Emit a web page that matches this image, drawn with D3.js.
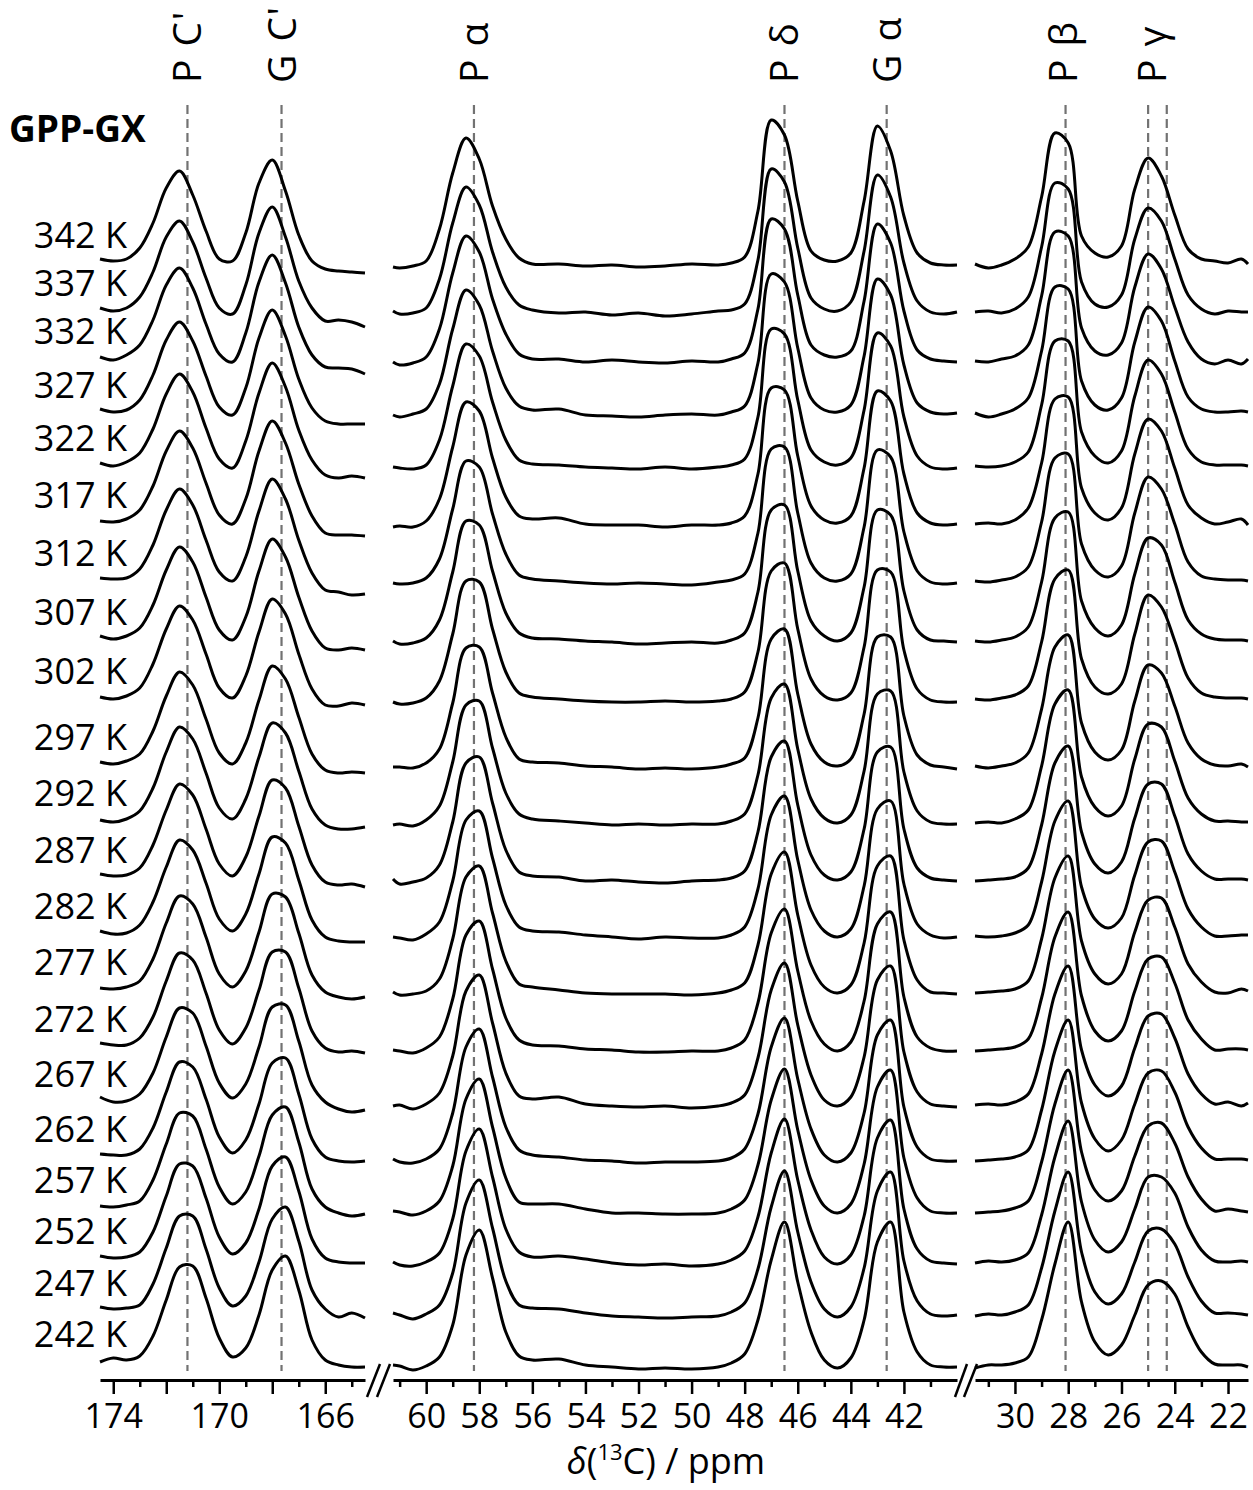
<!DOCTYPE html>
<html>
<head>
<meta charset="utf-8">
<script src="https://cdn.jsdelivr.net/npm/d3@7"></script>
<style>
  body { margin: 0; background: #fff; }
  text { font-family: "Open Sans", sans-serif; }
</style>
</head>
<body>
<div id="chart"></div>
<script>
// temperatures, top to bottom, and stacking offset of each trace (intensity units)
const temps = [342, 337, 332, 327, 322, 317, 312, 307, 302, 297, 292, 287, 282, 277, 272, 267, 262, 257, 252, 247, 242];
const offsets = [1099, 1051, 1003, 949, 896, 839, 781, 722, 663, 597, 541, 484, 428, 372, 315, 260, 205, 154, 103, 51, 0];

// chemical shift grids of the three panels (ppm)
const ppm1 = [174.5, 174, 173.5, 173, 172.5, 172, 171.5, 171, 170.5, 170, 169.5, 169, 168.5, 168, 167.5, 167, 166.5, 166, 165.5, 165, 164.5];
const ppm2 = [61.25, 61, 60.5, 60, 59.5, 59, 58.5, 58, 57.5, 57, 56.5, 56, 55, 54, 53, 52, 51, 50, 49, 48.5, 48, 47.5, 47, 46.5, 46, 45.5, 45, 44.5, 44, 43.5, 43, 42.5, 42, 41.5, 41, 40.5, 40];
const ppm3 = [31.5, 31, 30.5, 30, 29.5, 29, 28.5, 28, 27.5, 27, 26.5, 26, 25.5, 25, 24.5, 24, 23.5, 23, 22.5, 22, 21.5, 21.25];

// intensities, one row per temperature
const spec1 = [
  [2, 0, 2, 13, 38, 73, 90, 66, 30, 2, 0, 28, 78, 101, 70, 26, 0, -8, -10, -11, -12],   // 342
  [1, -2, 1, 12, 37, 72, 88, 67, 31, 1, -5, 24, 76, 102, 72, 28, 1, -12, -11, -13, -18], // 337
  [0, -3, 2, 12, 37, 72, 89, 69, 33, 3, -5, 24, 75, 102, 74, 30, 2, -10, -11, -12, -17], // 332
  [2, -1, 1, 11, 36, 71, 89, 70, 35, 4, -4, 23, 73, 101, 75, 32, 3, -10, -13, -13, -13], // 327
  [1, -2, 2, 11, 35, 70, 90, 72, 36, 5, -4, 23, 71, 101, 77, 34, 4, -11, -14, -12, -14], // 322
  [0, -1, 2, 11, 35, 70, 90, 73, 38, 6, -3, 22, 70, 100, 78, 37, 5, -12, -14, -14, -15], // 317
  [1, 0, 1, 10, 34, 69, 90, 74, 39, 7, -2, 22, 68, 100, 80, 39, 6, -11, -13, -16, -15],  // 312
  [2, -1, 2, 10, 33, 68, 91, 76, 41, 8, -2, 21, 67, 99, 81, 41, 7, -10, -12, -10, -12],  // 307
  [0, -2, 1, 9, 33, 68, 91, 77, 43, 9, -1, 21, 65, 98, 83, 43, 8, -8, -9, -6, -8],       // 302
  [1, -1, 2, 9, 32, 67, 91, 78, 44, 10, -1, 20, 63, 97, 84, 46, 9, -7, -10, -9, -10],    // 297
  [-1, -3, 0, 8, 31, 67, 92, 80, 46, 11, 0, 20, 62, 96, 86, 48, 10, -6, -10, -10, -8],   // 292
  [2, 0, 1, 8, 31, 66, 92, 81, 47, 12, 0, 19, 60, 96, 88, 50, 11, -6, -9, -8, -11],      // 287
  [1, -2, -1, 7, 30, 65, 92, 82, 49, 13, 1, 18, 58, 95, 89, 52, 12, -5, -9, -10, -10],   // 282
  [0, -1, 1, 7, 29, 65, 92, 84, 51, 14, 1, 17, 56, 94, 91, 55, 13, -4, -9, -11, -9],     // 277
  [2, 0, 0, 7, 28, 64, 92, 85, 52, 15, 1, 17, 55, 93, 93, 57, 14, -3, -7, -6, -8],       // 272
  [3, -2, -1, 6, 27, 63, 92, 87, 54, 17, 2, 16, 53, 93, 95, 59, 15, -2, -9, -12, -10],   // 267
  [1, 0, 0, 6, 27, 63, 93, 88, 56, 18, 2, 15, 51, 92, 97, 61, 16, -2, -6, -7, -6],       // 262
  [0, -1, 1, 5, 26, 62, 93, 90, 57, 19, 2, 14, 50, 91, 99, 64, 17, -1, -7, -10, -8],     // 257
  [1, -1, 0, 5, 25, 61, 93, 91, 59, 20, 3, 14, 48, 91, 100, 66, 18, -1, -5, -6, -6],     // 252
  [2, 0, 1, 4, 25, 61, 93, 93, 60, 21, 3, 13, 47, 90, 102, 68, 19, 0, -8, -4, -9],       // 247
  [-2, 2, 0, 4, 24, 60, 93, 94, 62, 22, 3, 12, 45, 90, 104, 70, 20, 0, -5, -7, -7]       // 242
];

const spec2 = [
  [-6, -7, -5, 0, 32, 88, 123, 102, 55, 22, 3, -3, -3, -5, -4, -6, -5, -3, -4, -2, 4, 50, 141, 126, 60, 10, 1, 0, 8, 60, 135, 110, 45, 8, -2, -4, -4],
  [-2, -5, -4, 1, 30, 86, 122, 104, 57, 22, 4, -1, -4, -3, -6, -4, -7, -5, -2, -1, 5, 49, 140, 127, 61, 11, 0, -2, 7, 58, 134, 112, 46, 8, -3, -5, -3],
  [-5, -8, -6, 0, 28, 84, 121, 105, 58, 23, 3, -2, -2, -5, -3, -5, -6, -4, -5, -2, 4, 48, 138, 128, 62, 12, 2, 0, 6, 56, 133, 114, 46, 7, -2, -4, -5],
  [-4, -6, -3, 2, 27, 82, 121, 106, 60, 23, 5, 1, 2, -4, -5, -6, -4, -3, -4, -1, 5, 48, 137, 129, 63, 13, 1, -1, 6, 55, 132, 116, 46, 8, -1, -3, -2],
  [-3, -4, -5, -1, 24, 78, 120, 108, 62, 24, 4, 0, -1, -3, -4, -5, -3, -5, -3, -1, 5, 47, 135, 130, 64, 14, 2, -1, 6, 54, 131, 118, 47, 8, -3, -5, -4],
  [-6, -5, -6, 0, 22, 74, 119, 110, 63, 24, 5, 2, 3, -3, -4, -4, -6, -4, -4, -2, 5, 47, 133, 131, 65, 15, 1, -2, 5, 53, 130, 120, 47, 8, -2, -4, -3],
  [-4, -5, -4, 1, 20, 70, 118, 112, 65, 25, 4, 0, -2, -4, -5, -4, -5, -6, -3, -1, 5, 46, 130, 132, 66, 16, 1, -2, 5, 52, 129, 122, 47, 8, -3, -5, -4],
  [-3, -6, -5, 0, 18, 66, 117, 113, 67, 25, 5, 0, -1, -3, -4, -6, -5, -4, -5, -2, 5, 46, 128, 133, 67, 17, 2, -3, 5, 51, 128, 123, 47, 8, -2, -3, -4],
  [-5, -7, -6, -1, 16, 63, 116, 115, 68, 25, 4, 0, -2, -4, -5, -5, -4, -5, -4, -2, 5, 45, 126, 134, 68, 18, 1, -3, 4, 50, 127, 125, 47, 8, -3, -5, -5],
  [-4, -4, -5, 0, 14, 60, 115, 116, 70, 26, 4, 1, 0, -3, -4, -6, -5, -6, -4, -1, 5, 45, 124, 134, 69, 19, 1, -3, 4, 49, 126, 126, 47, 8, -2, -4, -6],
  [-6, -5, -7, -1, 13, 57, 114, 118, 71, 26, 5, 0, -2, -4, -6, -5, -6, -5, -5, -2, 5, 44, 121, 135, 70, 20, 1, -4, 4, 48, 125, 128, 47, 8, -3, -5, -5],
  [-3, -8, -6, -2, 11, 54, 113, 119, 73, 26, 4, 0, -1, -5, -4, -6, -7, -5, -4, -2, 5, 44, 119, 135, 71, 21, 1, -4, 4, 47, 124, 129, 47, 8, -2, -4, -5],
  [-5, -6, -8, -2, 10, 51, 112, 121, 74, 27, 5, 1, 0, -3, -5, -7, -5, -6, -6, -3, 5, 43, 117, 136, 72, 22, 1, -5, 3, 46, 123, 131, 48, 8, -3, -6, -5],
  [-4, -7, -6, -3, 9, 49, 111, 122, 75, 27, 4, 1, -2, -5, -6, -6, -6, -7, -5, -2, 5, 43, 114, 136, 73, 23, 1, -5, 3, 45, 122, 132, 48, 8, -4, -5, -6],
  [-5, -6, -8, -3, 8, 46, 110, 124, 76, 27, 5, 0, -1, -4, -5, -7, -7, -6, -6, -3, 5, 42, 112, 136, 74, 24, 1, -6, 3, 44, 121, 133, 48, 8, -3, -6, -6],
  [-6, -5, -9, -4, 7, 44, 109, 125, 77, 27, 4, 1, 3, -4, -6, -7, -6, -8, -6, -3, 5, 42, 110, 137, 75, 25, 0, -6, 3, 43, 120, 134, 48, 8, -4, -6, -7],
  [-4, -7, -8, -4, 6, 42, 108, 126, 78, 28, 5, 0, -2, -5, -6, -8, -7, -7, -6, -3, 6, 41, 108, 137, 76, 26, 0, -7, 2, 42, 120, 135, 48, 8, -4, -6, -6],
  [-5, -6, -9, -5, 5, 40, 107, 127, 79, 28, 4, 2, 2, -3, -7, -7, -8, -8, -7, -3, 6, 41, 106, 137, 76, 26, 0, -7, 2, 42, 119, 136, 48, 8, -5, -7, -7],
  [-5, -8, -9, -5, 4, 38, 106, 128, 80, 28, 5, 0, 1, -2, -6, -8, -7, -9, -7, -3, 6, 40, 104, 138, 77, 27, 0, -7, 2, 41, 119, 137, 48, 8, -4, -6, -7],
  [-4, -6, -10, -5, 4, 36, 106, 129, 81, 28, 4, 1, 0, -4, -7, -8, -9, -8, -7, -3, 6, 40, 102, 138, 77, 27, 0, -8, 2, 41, 118, 137, 48, 8, -5, -7, -6],
  [-5, -6, -10, -6, 3, 35, 105, 130, 82, 28, 4, 0, 1, -5, -7, -9, -8, -9, -7, -3, 6, 40, 100, 138, 78, 28, 0, -8, 2, 40, 118, 138, 48, 8, -5, -7, -7]
];

const spec3 = [
  [-3, -7, -4, 2, 14, 64, 128, 118, 25, 8, 4, 15, 72, 103, 85, 46, 12, 2, 0, -2, 2, -3],
  [-3, -2, -4, 0, 12, 62, 126, 120, 27, 5, 2, 14, 70, 101, 88, 50, 14, 0, -5, -2, -3, -3],
  [-4, -5, -2, 1, 12, 61, 125, 121, 29, 6, 2, 14, 70, 103, 88, 50, 15, -2, -7, -3, -7, -2],
  [-2, -6, -3, 2, 13, 60, 124, 122, 30, 6, 1, 13, 69, 104, 90, 50, 14, 2, -1, -1, 0, -1],
  [-2, -3, -2, 2, 12, 59, 123, 123, 32, 8, 1, 13, 68, 104, 90, 52, 15, 2, -1, -1, -1, -2],
  [-3, -2, -3, 1, 13, 58, 122, 124, 33, 8, 1, 13, 67, 102, 90, 53, 16, 3, -3, -1, 2, -4],
  [-2, -3, -1, 2, 12, 57, 121, 125, 35, 9, 2, 13, 66, 102, 90, 55, 17, 3, 0, -1, -1, -2],
  [-3, -4, -2, 1, 11, 56, 120, 126, 37, 10, 2, 13, 64, 100, 93, 56, 18, 4, -1, -2, -2, -3],
  [-2, -3, -1, 2, 11, 55, 118, 127, 38, 10, 3, 13, 63, 102, 90, 56, 19, 4, 0, -1, -1, -2],
  [-3, -5, -3, 0, 10, 54, 116, 128, 40, 11, 3, 13, 62, 98, 90, 57, 20, 4, -2, -3, -1, -4],
  [-4, -3, -4, 0, 9, 53, 115, 129, 42, 12, 3, 13, 60, 95, 92, 58, 21, 5, -2, -2, -3, -3],
  [-5, -4, -3, -1, 8, 51, 113, 130, 44, 12, 3, 14, 58, 92, 92, 60, 22, 5, -3, -3, -3, -4],
  [-4, -5, -4, -1, 7, 50, 111, 131, 45, 13, 4, 14, 57, 90, 91, 60, 23, 5, -4, -4, -3, -3],
  [-5, -4, -3, -1, 7, 49, 110, 132, 47, 14, 4, 14, 56, 88, 90, 61, 24, 6, -4, -5, -1, -3],
  [-6, -5, -4, -2, 6, 47, 108, 133, 49, 14, 4, 14, 54, 86, 88, 62, 25, 6, -5, -4, -4, -5],
  [-5, -4, -5, -2, 6, 46, 106, 134, 50, 15, 4, 14, 52, 84, 86, 62, 26, 6, -4, -2, -6, -3],
  [-6, -5, -4, -2, 5, 45, 104, 135, 52, 16, 4, 15, 51, 82, 84, 63, 28, 7, -4, -4, -4, -5],
  [-7, -6, -5, -2, 5, 44, 102, 136, 54, 16, 5, 15, 50, 80, 83, 63, 29, 7, -5, -3, -5, -6],
  [-6, -4, -5, -3, 4, 42, 100, 136, 55, 17, 5, 15, 48, 80, 80, 64, 30, 7, -4, -5, -4, -5],
  [-7, -5, -6, -3, 4, 41, 98, 137, 57, 17, 5, 15, 47, 78, 80, 65, 32, 8, -4, -4, -5, -6],
  [-8, -5, -5, -3, 3, 40, 96, 138, 58, 18, 5, 15, 45, 75, 79, 66, 33, 8, -4, -5, -5, -7]
];

// peak assignments: label, label position and dashed reference lines (ppm)
const peakLabels = ["P C'", "G C'", "P α", "P δ", "G α", "P β", "P γ"];
const labelPpm = [171.2, 167.65, 58.2, 46.5, 42.65, 28.2, 24.85];
const labelPanel = [0, 0, 1, 1, 1, 2, 2];
const refPpm = [171.2, 167.65, 58.2, 46.5, 42.65, 28.1, 25.0, 24.3];
const refPanel = [0, 0, 1, 1, 1, 2, 2, 2];

// axis ticks
const major1 = [174, 172, 170, 168, 166], minor1 = [173, 171, 169, 167, 165], labeled1 = [174, 170, 166];
const major2 = [60, 58, 56, 54, 52, 50, 48, 46, 44, 42], minor2 = [61, 59, 57, 55, 53, 51, 49, 47, 45, 43, 41];
const major3 = [30, 28, 26, 24, 22], minor3 = [31, 29, 27, 25, 23];

const W = 1253, H = 1490;
const axisY = 1380;

const svg = d3.select("#chart").append("svg")
  .attr("width", W)
  .attr("height", H)
  .style("background", "#fff");

const y = d3.scaleLinear().domain([0, 1100]).range([1360, 260]);

const panels = [
  { x: d3.scaleLinear().domain([174.5, 164.5]).range([100, 365]), ppm: ppm1, spec: spec1,
    major: major1, minor: minor1, labeled: labeled1 },
  { x: d3.scaleLinear().domain([61.25, 40]).range([393, 957]), ppm: ppm2, spec: spec2,
    major: major2, minor: minor2, labeled: major2 },
  { x: d3.scaleLinear().domain([31.5, 21.25]).range([975, 1248]), ppm: ppm3, spec: spec3,
    major: major3, minor: minor3, labeled: major3 }
];

// dashed reference lines
svg.append("g").selectAll("line")
  .data(refPpm)
  .enter().append("line")
  .attr("x1", (d, i) => panels[refPanel[i]].x(d))
  .attr("x2", (d, i) => panels[refPanel[i]].x(d))
  .attr("y1", 105)
  .attr("y2", 1371)
  .attr("stroke", "#727272")
  .attr("stroke-width", 2.2)
  .attr("stroke-dasharray", "9,5");

// spectra
panels.forEach(p => {
  const line = d3.line()
    .x((d, j) => p.x(p.ppm[j]))
    .y(d => d)
    .curve(d3.curveCatmullRom.alpha(0.5));

  svg.append("g").selectAll("path")
    .data(p.spec)
    .enter().append("path")
    .attr("fill", "none")
    .attr("stroke", "#000")
    .attr("stroke-width", 3)
    .attr("stroke-linejoin", "round")
    .attr("d", (row, i) => line(row.map(v => y(offsets[i] + v))));
});

// axes
panels.forEach(p => {
  const gMin = svg.append("g").attr("transform", `translate(0,${axisY})`)
    .call(d3.axisBottom(p.x).tickValues(p.minor).tickSize(7).tickSizeOuter(0).tickFormat(""));
  gMin.select(".domain").remove();
  gMin.selectAll(".tick line").attr("stroke-width", 2.5);

  const g = svg.append("g").attr("transform", `translate(0,${axisY})`)
    .call(d3.axisBottom(p.x).tickValues(p.major).tickSize(14).tickSizeOuter(0).tickPadding(10)
      .tickFormat(d => p.labeled.includes(d) ? d : ""));
  g.select(".domain").attr("stroke-width", 3);
  g.selectAll(".tick line").attr("stroke-width", 2.5);
  g.selectAll(".tick text")
    .attr("font-family", "Open Sans, sans-serif")
    .attr("font-size", 34)
    .attr("fill", "#000");
});

// axis break marks
const breaks = [[367, 380], [377, 390], [955, 967], [964, 977]];
svg.append("g").selectAll("line")
  .data(breaks)
  .enter().append("line")
  .attr("x1", d => d[0]).attr("y1", 1397)
  .attr("x2", d => d[1]).attr("y2", 1364)
  .attr("stroke", "#000")
  .attr("stroke-width", 2.5);

// axis title
const title = svg.append("text")
  .attr("x", 666)
  .attr("y", 1474)
  .attr("text-anchor", "middle")
  .attr("font-size", 36)
  .attr("fill", "#000");
title.append("tspan").attr("font-style", "italic").text("δ");
title.append("tspan").text("(");
title.append("tspan").attr("font-size", 22).attr("dy", -14).text("13");
title.append("tspan").attr("dy", 14).text("C) / ppm");

// temperature labels
svg.append("g").selectAll("text")
  .data(temps)
  .enter().append("text")
  .attr("x", 127)
  .attr("y", (d, i) => y(offsets[i]) - 13)
  .attr("text-anchor", "end")
  .attr("font-size", 36)
  .attr("fill", "#000")
  .text(d => `${d} K`);

// sample name
svg.append("text")
  .attr("x", 9)
  .attr("y", 142)
  .attr("font-size", 37)
  .attr("font-weight", "bold")
  .attr("fill", "#000")
  .text("GPP-GX");

// peak labels (rotated)
svg.append("g").selectAll("text")
  .data(peakLabels)
  .enter().append("text")
  .attr("transform", (d, i) => `translate(${panels[labelPanel[i]].x(labelPpm[i]) + 14},83) rotate(-90)`)
  .attr("text-anchor", "start")
  .attr("font-size", 39)
  .attr("letter-spacing", 1.5)
  .attr("fill", "#000")
  .text(d => d);
</script>
</body>
</html>
